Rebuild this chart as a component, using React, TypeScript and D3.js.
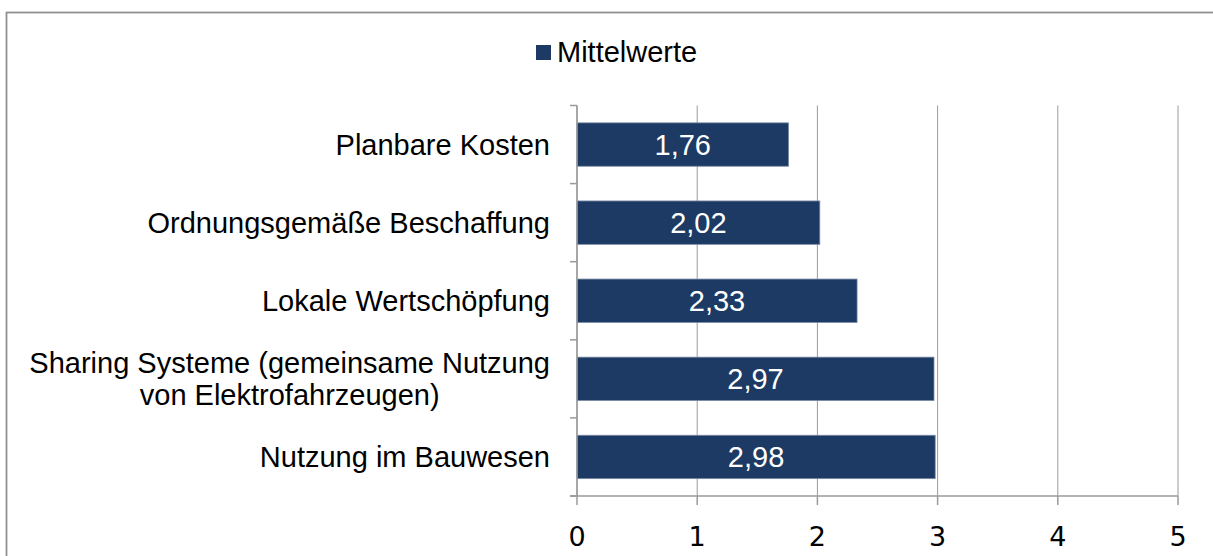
import React, { useEffect, useRef } from 'react';
import * as d3 from 'd3';

// Mittelwerte je Kategorie (von oben nach unten)
const categories = [
  'Planbare Kosten',
  'Ordnungsgemäße Beschaffung',
  'Lokale Wertschöpfung',
  'Sharing Systeme (gemeinsame Nutzung\nvon Elektrofahrzeugen)',
  'Nutzung im Bauwesen',
];
const values = [1.76, 2.02, 2.33, 2.97, 2.98];
const xTicks = [0, 1, 2, 3, 4, 5];
const seriesName = 'Mittelwerte';

const W = 1213;
const H = 556;

const App = () => {
  const svgRef = useRef<SVGSVGElement | null>(null);

  useEffect(() => {
    const svg = d3.select(svgRef.current);
    svg.selectAll('*').remove();

    const plot = { left: 577, right: 1178, top: 105.5, bottom: 496 };
    const barColor = '#1c3a64';
    const gridColor = '#9a9a9a';
    const labelFont = '"Liberation Sans", Arial, sans-serif';
    const fs = '29px';

    // outer frame (runs off the right and bottom edge)
    svg.append('rect')
      .attr('x', 6.5).attr('y', 12.5)
      .attr('width', 1400).attr('height', 800)
      .attr('fill', '#fff')
      .attr('stroke', '#8e8e8e')
      .attr('stroke-width', 1.75);

    const x = d3.scaleLinear().domain([0, 5]).range([plot.left, plot.right]);
    const y = d3.scaleBand().domain(categories).range([plot.top, plot.bottom]).padding(0);
    const barH = y.bandwidth() / 1.8;

    // vertical gridlines
    svg.append('g')
      .selectAll('line')
      .data(xTicks)
      .enter().append('line')
      .attr('x1', d => x(d)).attr('x2', d => x(d))
      .attr('y1', plot.top).attr('y2', plot.bottom)
      .attr('stroke', gridColor)
      .attr('stroke-width', 1);

    // bars
    svg.append('g')
      .selectAll('rect')
      .data(values)
      .enter().append('rect')
      .attr('x', x(0))
      .attr('y', (d, i) => (y(categories[i]) as number) + (y.bandwidth() - barH) / 2)
      .attr('width', d => x(d) - x(0))
      .attr('height', barH)
      .attr('fill', barColor)
      .attr('stroke', '#7a8aa5')
      .attr('stroke-width', 0.8);

    // value labels inside the bars
    svg.append('g')
      .selectAll('text')
      .data(values)
      .enter().append('text')
      .attr('x', d => (x(0) + x(d)) / 2)
      .attr('y', (d, i) => (y(categories[i]) as number) + y.bandwidth() / 2)
      .attr('dy', '0.35em')
      .attr('text-anchor', 'middle')
      .style('font-family', labelFont)
      .style('font-size', fs)
      .style('fill', '#fff')
      .text(d => d.toFixed(2).replace('.', ','));

    // y axis
    const yAxis = svg.append('g');
    yAxis.append('line')
      .attr('x1', plot.left).attr('x2', plot.left)
      .attr('y1', plot.top).attr('y2', plot.bottom)
      .attr('stroke', gridColor).attr('stroke-width', 1.5);
    const bounds = categories.map(c => y(c) as number).concat([plot.bottom]);
    yAxis.selectAll('.ytick')
      .data(bounds)
      .enter().append('line')
      .attr('class', 'ytick')
      .attr('x1', plot.left - 7).attr('x2', plot.left)
      .attr('y1', d => d).attr('y2', d => d)
      .attr('stroke', gridColor).attr('stroke-width', 1.5);

    // category labels, multi-line ones centred on each other
    categories.forEach(c => {
      const lines = c.split('\n');
      const cy = (y(c) as number) + y.bandwidth() / 2;
      const lh = 31.5;
      const t = svg.append('text')
        .style('font-family', labelFont)
        .style('font-size', fs)
        .style('fill', '#000');
      lines.forEach((ln, i) => {
        t.append('tspan')
          .attr('x', plot.left - 27)
          .attr('y', cy + (i - (lines.length - 1) / 2) * lh)
          .attr('dy', '0.35em')
          .attr('text-anchor', 'end')
          .text(ln);
      });
      if (lines.length > 1) {
        const spans = t.selectAll<SVGTSpanElement, unknown>('tspan').nodes();
        const maxW = d3.max(spans, s => s.getComputedTextLength()) || 0;
        const cx = plot.left - 27 - maxW / 2;
        t.selectAll('tspan').attr('x', cx).attr('text-anchor', 'middle');
      }
    });

    // x axis
    const xAxis = svg.append('g');
    xAxis.append('line')
      .attr('x1', plot.left - 7).attr('x2', plot.right)
      .attr('y1', plot.bottom).attr('y2', plot.bottom)
      .attr('stroke', gridColor).attr('stroke-width', 1.5);
    xAxis.selectAll('.xtick')
      .data(xTicks)
      .enter().append('line')
      .attr('class', 'xtick')
      .attr('x1', d => x(d)).attr('x2', d => x(d))
      .attr('y1', plot.bottom).attr('y2', plot.bottom + 9)
      .attr('stroke', gridColor).attr('stroke-width', 1.5);
    xAxis.selectAll('text')
      .data(xTicks)
      .enter().append('text')
      .attr('x', d => x(d))
      .attr('y', 546)
      .attr('text-anchor', 'middle')
      .style('font-family', '"DejaVu Sans", Verdana, sans-serif')
      .style('font-size', '27px')
      .style('fill', '#000')
      .text(d => String(d));

    // legend
    const legend = svg.append('g');
    legend.append('rect')
      .attr('x', 536).attr('y', 45)
      .attr('width', 15).attr('height', 15)
      .attr('fill', barColor);
    legend.append('text')
      .attr('x', 557).attr('y', 62)
      .style('font-family', labelFont)
      .style('font-size', fs)
      .style('fill', '#000')
      .text(seriesName);
  }, []);

  return (
    <svg
      ref={svgRef}
      width={W}
      height={H}
      style={{ position: 'absolute', left: 0, top: 0, background: '#fff' }}
    />
  );
};

export default App;
